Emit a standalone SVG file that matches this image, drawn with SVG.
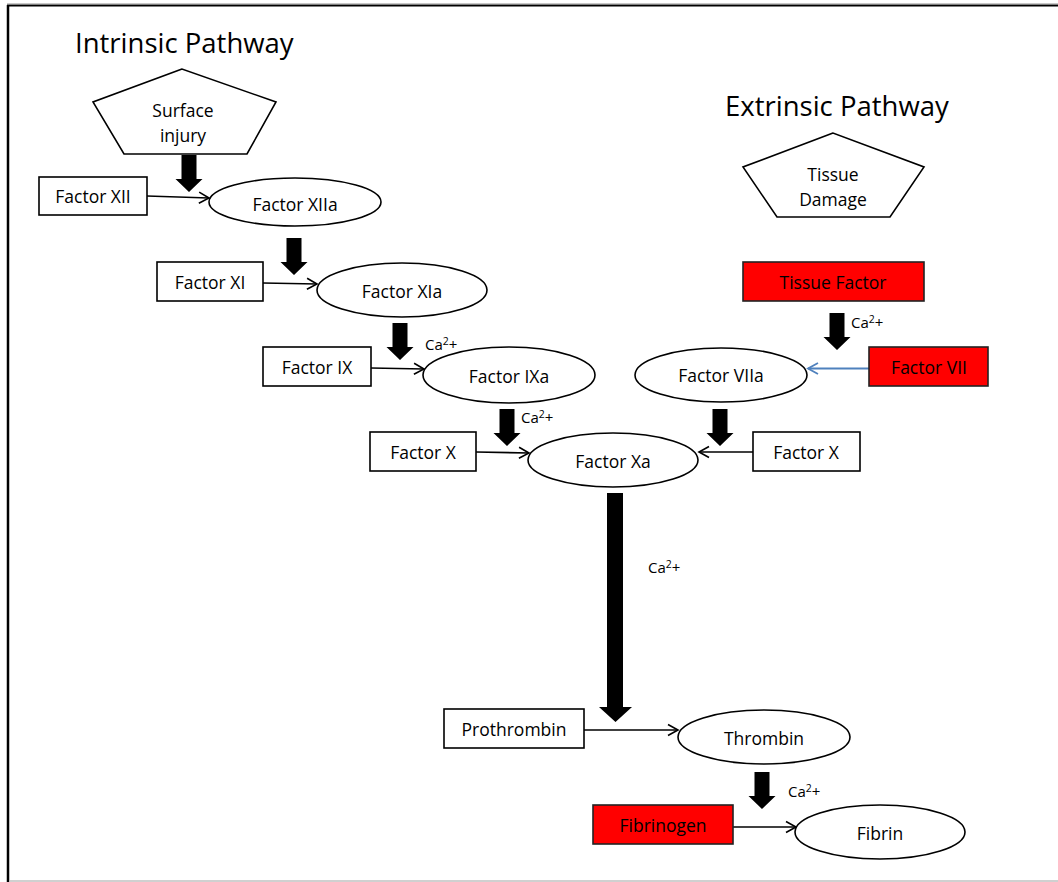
<svg xmlns="http://www.w3.org/2000/svg" width="1058" height="882" viewBox="0 0 1058 882">
<style>
  text { font-family: "Open Sans", "Liberation Sans", sans-serif; fill: #000; }
  .lbl { font-size: 17.5px; text-anchor: middle; dominant-baseline: central; }
  .title { font-size: 27.5px; }
  .ca { font-size: 15px; }
  .box { fill: #fff; stroke: #000; stroke-width: 1.6; }
  .red { fill: #ff0000; stroke: #222; stroke-width: 1.6; }
  .ell { fill: #fff; stroke: #000; stroke-width: 1.6; }
  .pent { fill: #fff; stroke: #000; stroke-width: 1.6; }
  .thin { stroke: #000; stroke-width: 1.6; fill: none; marker-end: url(#open); }
  .blue { stroke: #4f81bd; stroke-width: 1.8; fill: none; marker-end: url(#openBlue); }
  .fat { fill: #000; }
</style>
<defs>
  <marker id="open" markerUnits="userSpaceOnUse" markerWidth="14" markerHeight="14" refX="12" refY="7" orient="auto">
    <path d="M2,1.5 L12,7 L2,12.5" fill="none" stroke="#000" stroke-width="1.6"/>
  </marker>
  <marker id="openBlue" markerUnits="userSpaceOnUse" markerWidth="14" markerHeight="14" refX="12" refY="7" orient="auto">
    <path d="M2,1.5 L12,7 L2,12.5" fill="none" stroke="#4f81bd" stroke-width="1.8"/>
  </marker>
  <path id="fatArrow" d="M-7.5,0 H7.5 V24 H13.5 L0,37 L-13.5,24 H-7.5 Z"/>
</defs>
<rect x="0" y="0" width="1058" height="882" fill="#fff"/>
<g id="frame">
  <line x1="7" y1="3.5" x2="1058" y2="3.5" stroke="#c8c8c8" stroke-width="1"/>
  <line x1="7" y1="5.5" x2="1058" y2="5.5" stroke="#000" stroke-width="2"/>
  <line x1="8" y1="5" x2="8" y2="882" stroke="#000" stroke-width="2.5"/>
  <line x1="9" y1="881" x2="1058" y2="881" stroke="#c0c0c0" stroke-width="1.5"/>
</g>
<g id="titles">
  <text id="intrinsic-title" class="title" x="75" y="53">Intrinsic Pathway</text>
  <text id="extrinsic-title" class="title" x="725" y="116">Extrinsic Pathway</text>
</g>
<g id="connectors">
  <use href="#fatArrow" class="fat" transform="translate(189,155)"/>
  <use href="#fatArrow" class="fat" transform="translate(294,238)"/>
  <use href="#fatArrow" class="fat" transform="translate(400,323)"/>
  <use href="#fatArrow" class="fat" transform="translate(507,409)"/>
  <use href="#fatArrow" class="fat" transform="translate(837,313)"/>
  <use href="#fatArrow" class="fat" transform="translate(720,409)"/>
  <use href="#fatArrow" class="fat" transform="translate(762,772)"/>
  <path class="fat" d="M607,493 H623 V707 H632 L615.5,722 L599,707 H607 Z"/>
  <line class="thin" x1="147" y1="196" x2="209" y2="198"/>
  <line class="thin" x1="263" y1="283" x2="317" y2="284"/>
  <line class="thin" x1="371" y1="368" x2="424" y2="369"/>
  <line class="thin" x1="476" y1="452" x2="529" y2="453"/>
  <line class="thin" x1="753" y1="452" x2="699" y2="452"/>
  <line class="blue" x1="869" y1="368.5" x2="808" y2="368.5"/>
  <line class="thin" x1="584" y1="730" x2="678" y2="730"/>
  <line class="thin" x1="733" y1="827" x2="796" y2="827"/>
  <text class="ca" x="425" y="350">Ca<tspan font-size="10.5" dy="-5">2</tspan><tspan dy="5">+</tspan></text>
  <text class="ca" x="521" y="423">Ca<tspan font-size="10.5" dy="-5">2</tspan><tspan dy="5">+</tspan></text>
  <text class="ca" x="851" y="328">Ca<tspan font-size="10.5" dy="-5">2</tspan><tspan dy="5">+</tspan></text>
  <text class="ca" x="648" y="573">Ca<tspan font-size="10.5" dy="-5">2</tspan><tspan dy="5">+</tspan></text>
  <text class="ca" x="788" y="797">Ca<tspan font-size="10.5" dy="-5">2</tspan><tspan dy="5">+</tspan></text>
</g>
<g id="surface-injury">
  <polygon class="pent" points="182,69 93,102 124,154 247,154 276,102"/>
  <text class="lbl" x="183" y="110">Surface</text>
  <text class="lbl" x="183" y="135">injury</text>
</g>
<g id="factor-xii">
  <rect class="box" x="39" y="177" width="108" height="38"/>
  <text class="lbl" x="93" y="196">Factor XII</text>
</g>
<g id="factor-xiia">
  <ellipse class="ell" cx="295" cy="202" rx="86" ry="24"/>
  <text class="lbl" x="295" y="204">Factor XIIa</text>
</g>
<g id="factor-xi">
  <rect class="box" x="157" y="262" width="106" height="39"/>
  <text class="lbl" x="210" y="282">Factor XI</text>
</g>
<g id="factor-xia">
  <ellipse class="ell" cx="402" cy="290" rx="85" ry="27"/>
  <text class="lbl" x="402" y="291">Factor XIa</text>
</g>
<g id="factor-ix">
  <rect class="box" x="263" y="347" width="108" height="39"/>
  <text class="lbl" x="317" y="367">Factor IX</text>
</g>
<g id="factor-ixa">
  <ellipse class="ell" cx="509" cy="375" rx="86" ry="28"/>
  <text class="lbl" x="509" y="376">Factor IXa</text>
</g>
<g id="factor-x-left">
  <rect class="box" x="370" y="432" width="106" height="39"/>
  <text class="lbl" x="423" y="452">Factor X</text>
</g>
<g id="factor-xa">
  <ellipse class="ell" cx="613" cy="460" rx="85" ry="27"/>
  <text class="lbl" x="613" y="461">Factor Xa</text>
</g>
<g id="tissue-damage">
  <polygon class="pent" points="833,133 743,167 777,217 890,217 924,167"/>
  <text class="lbl" x="833" y="174">Tissue</text>
  <text class="lbl" x="833" y="199">Damage</text>
</g>
<g id="tissue-factor">
  <rect class="red" x="743" y="262" width="181" height="39"/>
  <text class="lbl" x="833" y="282">Tissue Factor</text>
</g>
<g id="factor-vii">
  <rect class="red" x="869" y="347" width="119" height="39"/>
  <text class="lbl" x="929" y="367">Factor VII</text>
</g>
<g id="factor-viia">
  <ellipse class="ell" cx="721" cy="375" rx="86" ry="27"/>
  <text class="lbl" x="721" y="375">Factor VIIa</text>
</g>
<g id="factor-x-right">
  <rect class="box" x="753" y="432" width="107" height="39"/>
  <text class="lbl" x="806" y="452">Factor X</text>
</g>
<g id="prothrombin">
  <rect class="box" x="444" y="709" width="140" height="39"/>
  <text class="lbl" x="514" y="729">Prothrombin</text>
</g>
<g id="thrombin">
  <ellipse class="ell" cx="764" cy="737" rx="86" ry="27"/>
  <text class="lbl" x="764" y="738">Thrombin</text>
</g>
<g id="fibrinogen">
  <rect class="red" x="593" y="805" width="140" height="39"/>
  <text class="lbl" x="663" y="825">Fibrinogen</text>
</g>
<g id="fibrin">
  <ellipse class="ell" cx="880" cy="832" rx="85" ry="27"/>
  <text class="lbl" x="880" y="833">Fibrin</text>
</g>
</svg>
